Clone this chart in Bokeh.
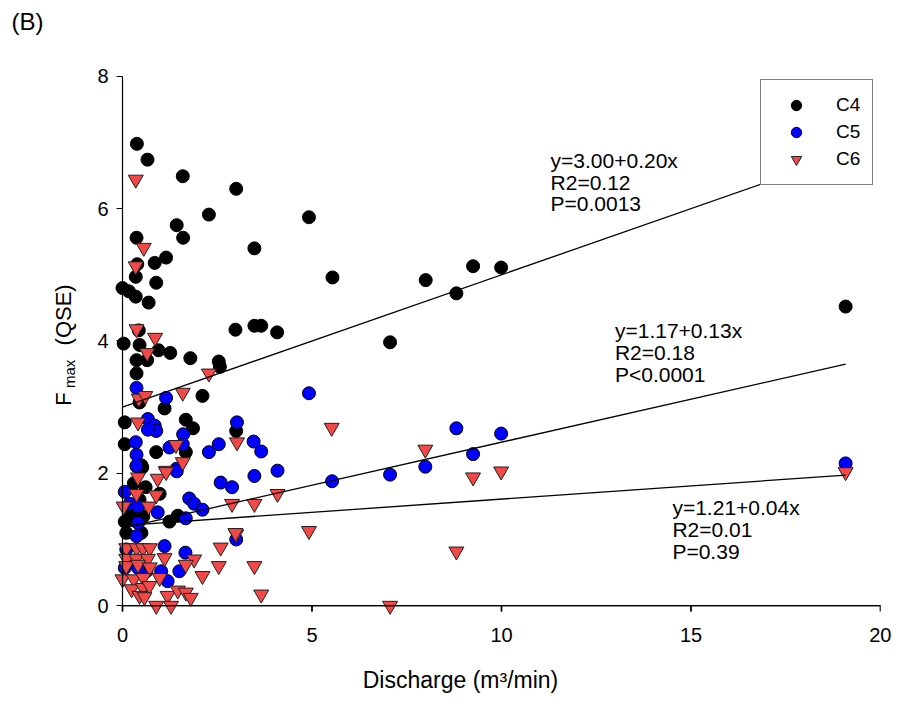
import math
from bokeh.plotting import figure
from bokeh.models import Range1d, Label, Legend, LegendItem, FixedTicker, BoxAnnotation
from bokeh.embed import file_html
from bokeh.resources import INLINE

# ---------------- data ----------------
c4_x = [0.38, 0.66, 1.59, 3.00, 2.28, 4.92, 1.43, 1.60, 0.37, 3.48, 1.15, 0.85, 0.39, 0.35, 5.54,
        8.00, 0.89, 0.00, 0.17, 8.81, 0.35, 0.69, 19.08, 9.25, 9.99, 2.98, 3.48, 3.66, 4.08, 7.06,
        0.43, 0.03, 0.45, 0.95, 1.26, 0.37, 0.65, 1.79, 2.54, 2.57, 0.37, 0.45, 1.11, 2.11, 0.06,
        1.67, 1.86, 3.00, 0.06, 1.67, 0.89, 0.50, 0.37, 0.52, 0.61, 0.98, 0.06, 0.37, 1.24, 1.46,
        0.10, 0.50, 0.20, 0.45, 0.30, 0.55]
c4_y = [6.98, 6.74, 6.49, 6.30, 5.91, 5.87, 5.75, 5.56, 5.56, 5.40, 5.26, 5.18, 5.16, 4.97, 4.96,
        4.92, 4.88, 4.80, 4.75, 4.72, 4.67, 4.58, 4.52, 5.13, 5.11, 4.17, 4.23, 4.23, 4.13, 3.98,
        4.16, 3.96, 3.94, 3.86, 3.82, 3.71, 3.71, 3.74, 3.69, 3.61, 3.51, 3.07, 2.98, 3.17, 2.77,
        2.81, 2.68, 2.64, 2.44, 2.32, 2.32, 2.12, 2.11, 2.09, 1.79, 1.69, 1.27, 1.27, 1.27, 1.36,
        1.10, 1.10, 1.40, 1.60, 1.85, 1.35]

c5_x = [0.37, 1.15, 4.92, 0.67, 0.85, 0.89, 0.67, 1.60, 3.02, 2.54, 0.35, 1.24, 1.59, 2.28, 0.37,
        1.43, 0.37, 1.43, 2.59, 2.89, 0.06, 0.19, 0.41, 0.93, 1.76, 1.89, 2.11, 1.67, 0.41, 0.37,
        3.00, 0.10, 1.11, 1.66, 1.50, 1.02, 1.19, 0.06, 0.63, 0.41, 3.46, 3.66, 3.48, 4.09, 5.53,
        7.06, 7.99, 8.81, 9.99, 9.25, 19.08]
c5_y = [3.29, 3.14, 3.21, 2.82, 2.72, 2.64, 2.66, 2.59, 2.77, 2.44, 2.47, 2.39, 2.44, 2.32, 2.28,
        2.07, 2.11, 2.03, 1.86, 1.79, 1.72, 1.54, 1.50, 1.41, 1.62, 1.54, 1.45, 1.32, 1.25, 1.05,
        1.00, 0.85, 0.90, 0.80, 0.52, 0.52, 0.37, 0.57, 0.52, 0.57, 2.48, 2.33, 1.96, 2.04, 1.88,
        1.98, 2.10, 2.68, 2.60, 2.29, 2.15]

c6_x = [0.35, 0.56, 0.35, 0.37, 0.86, 0.65, 2.28, 0.43, 0.60, 1.59, 0.41, 3.02, 1.41, 1.59, 1.15,
        0.41, 0.93, 1.15, 0.37, 0.89, 0.03, 0.69, 2.89, 3.00, 2.59, 0.10, 0.37, 0.54, 0.72, 1.11,
        1.89, 1.67, 2.54, 2.11, 0.10, 0.37, 0.67, 0.10, 0.41, 0.72, 0.00, 0.30, 0.55, 0.98, 0.24,
        0.54, 0.71, 0.45, 0.58, 1.19, 1.46, 1.67, 1.80, 0.89, 1.28, 4.09, 3.48, 5.52, 7.99, 4.92,
        2.98, 3.48, 3.66, 7.06, 9.25, 9.99, 8.81, 19.08]
c6_y = [6.44, 5.41, 5.13, 4.18, 4.05, 3.82, 3.51, 3.13, 3.17, 3.22, 2.77, 2.47, 2.43, 2.17, 2.04,
        1.94, 1.92, 2.02, 1.69, 1.67, 1.50, 1.50, 1.54, 1.08, 0.88, 0.87, 0.87, 0.87, 0.87, 0.72,
        0.70, 0.62, 0.60, 0.45, 0.71, 0.71, 0.71, 0.60, 0.62, 0.58, 0.40, 0.40, 0.42, 0.42, 0.25,
        0.27, 0.30, 0.15, 0.13, 0.15, 0.23, 0.20, 0.12, 0.00, 0.00, 1.69, 1.54, 2.69, 2.36, 1.13,
        1.10, 0.60, 0.17, 0.00, 1.94, 2.03, 0.82, 2.02]

series_names = ["C4", "C5", "C6"]
fit_intercepts = [3.00, 1.17, 1.21]
fit_slopes = [0.20, 0.13, 0.04]
fit_x_range = [0.0, 19.08]
fit_texts = [["y=3.00+0.20x", "R2=0.12", "P=0.0013"],
             ["y=1.17+0.13x", "R2=0.18", "P<0.0001"],
             ["y=1.21+0.04x", "R2=0.01", "P=0.39"]]
x_ticks = [0, 5, 10, 15, 20]
y_ticks = [0, 2, 4, 6, 8]

FONT = "Liberation Sans"

# --------------- layout (canvas pixels) ---------------
W, H = 891, 695
X0_PX, Y0_PX, Y8_PX = 122, 608, 76             # where x=0, y=0, y=8 fall
FR_L, FR_R, FR_T = 40, 880, 36
xs = (FR_R - X0_PX) / 20.0
ys = (Y0_PX - Y8_PX) / 8.0
Y_LOW = -0.3
FR_B = int(round(Y0_PX - Y_LOW * ys))
x_start = -(X0_PX - FR_L) / xs
y_end = 8 + (Y8_PX - FR_T) / ys
TICK_LEN = 6 / ys            # 6 px outward ticks (data units)
LW_Y = 1.4 / ys              # line thickness in data units (vertical)
LW_X = 1.4 / xs              # line thickness in data units (horizontal)

p = figure(width=W, height=H, output_backend="svg", toolbar_location=None,
           x_range=Range1d(x_start, 20.0), y_range=Range1d(Y_LOW, y_end),
           min_border_left=FR_L, min_border_right=W - FR_R, min_border_top=FR_T,
           min_border_bottom=H - FR_B, title="(B)")
p.outline_line_color = None
p.xgrid.visible = False
p.ygrid.visible = False
p.background_fill_color = "white"
p.border_fill_color = "white"

p.title.align = "left"
p.title.offset = -29
p.title.standoff = 4
p.title.text_font = FONT
p.title.text_font_size = "24px"
p.title.text_font_style = "normal"
p.title.text_color = "black"

# y axis: drawn at x = 0
yax = p.yaxis[0]
yax.fixed_location = 0
yax.bounds = (0, 8)
yax.ticker = FixedTicker(ticks=y_ticks)
yax.minor_tick_line_color = None
yax.major_tick_out = 6
yax.major_tick_in = 0
yax.axis_line_color = "black"
yax.axis_line_width = 1.2
yax.major_tick_line_color = "black"
yax.major_tick_line_width = 1.2
yax.major_label_text_font = FONT
yax.major_label_text_font_size = "20px"
yax.major_label_text_color = "black"
yax.major_label_standoff = 8

# x axis (tick labels + title) at the frame bottom
xax = p.xaxis[0]
xax.bounds = (0, 20)
xax.ticker = FixedTicker(ticks=x_ticks)
xax.axis_line_color = None
xax.major_tick_line_color = None
xax.minor_tick_line_color = None
xax.major_tick_out = 0
xax.major_tick_in = 0
xax.major_label_standoff = 2
xax.major_label_text_font = FONT
xax.major_label_text_font_size = "20px"
xax.major_label_text_color = "black"
xax.axis_label = "Discharge (m³/min)"
xax.axis_label_text_font = FONT
xax.axis_label_text_font_size = "23px"
xax.axis_label_text_font_style = "normal"
xax.axis_label_text_color = "black"
xax.axis_label_standoff = 22

r4 = p.scatter(c4_x, c4_y, marker="circle", size=13, fill_color="black", line_color="black")
r5 = p.scatter(c5_x, c5_y, marker="circle", size=13, fill_color="#0000FF", line_color="black")
r6 = p.scatter(c6_x, c6_y, marker="inverted_triangle", size=15, fill_color="#F24848", line_color="#202020")

for b0, b1 in zip(fit_intercepts, fit_slopes):
    yv = [b0 + b1 * xv for xv in fit_x_range]
    p.line(fit_x_range, yv, line_color="black", line_width=1.3)

# x axis line at y = 0 and its outward ticks (glyphs)
p.line([x_ticks[0], x_ticks[-1]], [y_ticks[0], y_ticks[0]], line_color="black", line_width=1.4)
p.multi_line([[t, t] for t in x_ticks], [[y_ticks[0], y_ticks[0] - TICK_LEN] for _ in x_ticks],
             line_color="black", line_width=1.4)
# the same line and ticks as thin box annotations
p.add_layout(BoxAnnotation(left=x_ticks[0] - LW_X / 2, right=x_ticks[-1] + LW_X / 2,
                           bottom=y_ticks[0] - LW_Y / 2, top=y_ticks[0] + LW_Y / 2,
                           fill_color="black", fill_alpha=1.0, line_color=None, level="overlay"))
for t in x_ticks:
    p.add_layout(BoxAnnotation(left=t - LW_X / 2, right=t + LW_X / 2,
                               bottom=y_ticks[0] - TICK_LEN, top=y_ticks[0],
                               fill_color="black", fill_alpha=1.0, line_color=None, level="overlay"))

# reference-picture pixel -> data
def px2x(px):
    return (px - 126) / 38.25

def py2y(py):
    return (615 - py) / 66.875

anno_pos = [(558, 165), (623, 337), (681, 516)]
for (ax_px, ay_px), lines in zip(anno_pos, fit_texts):
    for i, t in enumerate(lines):
        p.add_layout(Label(x=px2x(ax_px), y=py2y(ay_px + 22 * i), text=t,
                           text_font=FONT, text_font_size="21px", text_color="black",
                           text_align="left", text_baseline="middle"))

# y axis title: F_max (QSE)
p.add_layout(Label(x=px2x(66), y=py2y(413), text="F", angle=math.pi / 2, text_font=FONT,
                   text_font_size="22px", text_align="left", text_baseline="alphabetic",
                   text_color="black"))
p.add_layout(Label(x=px2x(73), y=py2y(395), text="max", angle=math.pi / 2, text_font=FONT,
                   text_font_size="15px", text_align="left", text_baseline="alphabetic",
                   text_color="black"))
p.add_layout(Label(x=px2x(66), y=py2y(352), text="(QSE)", angle=math.pi / 2, text_font=FONT,
                   text_font_size="22px", text_align="left", text_baseline="alphabetic",
                   text_color="black"))

legend = Legend(items=[LegendItem(label=n, renderers=[r]) for n, r in zip(series_names, [r4, r5, r6])],
                location=(720, 420 + (FR_B - 608)), padding=12, spacing=1, glyph_width=46,
                glyph_height=26, label_height=26, label_standoff=17, label_text_font=FONT,
                label_text_font_size="19px", label_text_color="black",
                border_line_color="black", border_line_width=1.2,
                background_fill_color="white", background_fill_alpha=1.0, margin=0)
p.add_layout(legend, "center")

open("out.html", "w").write(file_html(p, INLINE))
